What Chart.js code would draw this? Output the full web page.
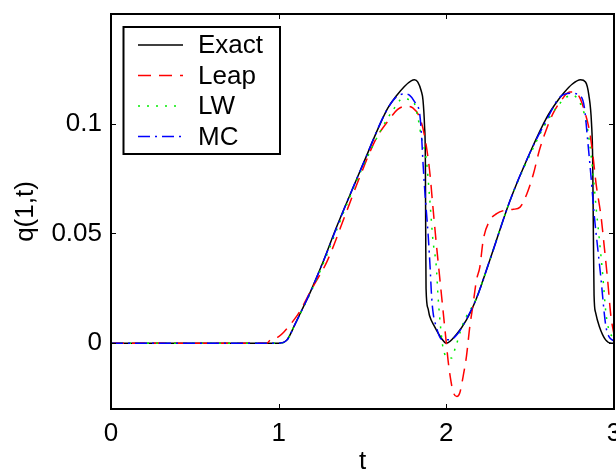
<!DOCTYPE html>
<html>
<head>
<meta charset="utf-8">
<script src="https://cdn.jsdelivr.net/npm/chart.js@4.4.1/dist/chart.umd.min.js"></script>
<style>
  html, body { margin: 0; padding: 0; background: #fff; }
  canvas { display: block; }
</style>
</head>
<body>
<canvas id="chart" width="616" height="475"></canvas>
<script>
// values
const tExact = [0, 1.0, 1.05, 1.10, 1.15, 1.19, 1.27, 1.33, 1.40, 1.50, 1.60, 1.65, 1.70, 1.75, 1.79, 1.81, 1.83, 1.85, 1.861, 1.87, 1.875, 1.877, 1.879, 1.89, 1.90, 1.93, 1.97, 2.0,
  2.06, 2.12, 2.18, 2.26, 2.38, 2.50, 2.60, 2.65, 2.70, 2.75, 2.80, 2.83, 2.85, 2.866, 2.873, 2.877, 2.881, 2.89, 2.913, 2.95, 2.985, 3.0];
const qExact = [0, 0, 0.0015, 0.009, 0.017, 0.0235, 0.038, 0.050, 0.063, 0.081, 0.099, 0.107, 0.1125, 0.117, 0.1195, 0.120, 0.119, 0.115, 0.1106, 0.099, 0.083, 0.05, 0.025, 0.016, 0.0125, 0.0075, 0.0023, 0,
  0.004, 0.0106, 0.0205, 0.038, 0.065, 0.087, 0.103, 0.109, 0.114, 0.118, 0.120, 0.119, 0.113, 0.1, 0.083, 0.05, 0.022, 0.014, 0.0075, 0.0015, 0, 0];

const tLeap = [0, 0.93, 0.95, 1.0, 1.03, 1.10, 1.13, 1.20, 1.29, 1.40, 1.48, 1.58, 1.66, 1.71, 1.76, 1.80, 1.84, 1.87, 1.90, 1.92, 1.94, 1.96, 1.98, 2.0,
  2.01, 2.02, 2.04, 2.063, 2.08, 2.10, 2.12, 2.14, 2.16, 2.18, 2.20, 2.22, 2.26, 2.30, 2.35, 2.40, 2.44, 2.48, 2.52, 2.555, 2.595, 2.635, 2.685, 2.735, 2.765, 2.795, 2.823, 2.853, 2.873, 2.893, 2.923, 2.942, 2.962, 2.982, 3.0];
const qLeap = [0, 0, 0.0015, 0.003, 0.005, 0.0115, 0.015, 0.025, 0.0375, 0.059, 0.075, 0.093, 0.102, 0.1065, 0.108, 0.1072, 0.103, 0.0945, 0.0788, 0.0621, 0.0455, 0.0303, 0.0151, 0,
  -0.0076, -0.0136, -0.022, -0.0243, -0.0227, -0.0152, -0.006, 0.0075, 0.018, 0.0288, 0.0348, 0.047, 0.056, 0.059, 0.0606, 0.061, 0.062, 0.068, 0.0773, 0.0879, 0.097, 0.1045, 0.1106, 0.1144, 0.1144, 0.112, 0.106, 0.097, 0.0864, 0.0727, 0.0576, 0.0439, 0.0288, 0.012, 0.004];

const tLW = [0, 1.0, 1.05, 1.10, 1.19, 1.27, 1.40, 1.50, 1.62, 1.68, 1.74, 1.78, 1.805, 1.83, 1.851, 1.881, 1.90, 1.92, 1.94, 1.95, 1.96, 1.97, 1.98, 2.01, 2.03, 2.055, 2.10,
  2.18, 2.26, 2.38, 2.50, 2.60, 2.714, 2.754, 2.794, 2.833, 2.853, 2.873, 2.893, 2.913, 2.932, 2.952, 2.97, 3.0];
const qLW = [0, 0, 0.0015, 0.009, 0.023, 0.037, 0.062, 0.080, 0.0985, 0.106, 0.1114, 0.111, 0.110, 0.103, 0.094, 0.0833, 0.0667, 0.047, 0.035, 0.022, 0.012, 0.004, -0.002, -0.0068, -0.0068, -0.0018, 0.009,
  0.0205, 0.038, 0.065, 0.086, 0.101, 0.112, 0.1129, 0.110, 0.1015, 0.092, 0.0788, 0.062, 0.047, 0.0318, 0.0136, 0.006, 0.002];

const tMC = [0, 1.0, 1.05, 1.10, 1.19, 1.27, 1.40, 1.50, 1.643, 1.70, 1.752, 1.78, 1.811, 1.841, 1.851, 1.861, 1.871, 1.881, 1.891, 1.905, 1.91, 1.92, 1.94, 1.97, 2.02, 2.07, 2.12,
  2.18, 2.26, 2.38, 2.50, 2.60, 2.675, 2.744, 2.794, 2.823, 2.843, 2.863, 2.883, 2.902, 2.923, 2.942, 2.952, 2.97, 3.0];
const qMC = [0, 0, 0.0015, 0.009, 0.0235, 0.038, 0.063, 0.081, 0.106, 0.1121, 0.1136, 0.113, 0.110, 0.1045, 0.096, 0.082, 0.070, 0.060, 0.05, 0.032, 0.024, 0.0145, 0.0075, 0.0018, 0.0015, 0.0045, 0.011,
  0.0205, 0.038, 0.065, 0.087, 0.102, 0.112, 0.1139, 0.1129, 0.1076, 0.0924, 0.0758, 0.0576, 0.0439, 0.0288, 0.0136, 0.0075, 0.003, 0.001];

const seriesNames = ['Exact', 'Leap', 'LW', 'MC'];
const xTicks = [0, 1, 2, 3];
const yTicks = [0, 0.05, 0.1];

const FONT = '"Liberation Sans", Arial, Helvetica, sans-serif';

function pairs(ts, qs) {
  return ts.map((t, i) => ({ x: t, y: qs[i] }));
}

const styles = [
  { color: '#000000', dash: [] },
  { color: '#ff0000', dash: [13, 8] },
  { color: '#00ee00', dash: [2, 7] },
  { color: '#0000ff', dash: [12, 5, 2, 5] }
];
const allData = [pairs(tExact, qExact), pairs(tLeap, qLeap), pairs(tLW, qLW), pairs(tMC, qMC)];

// box round the plot with inward ticks on all four sides
const boxTicks = {
  id: 'boxTicks',
  afterDatasetsDraw(chart) {
    const { ctx, chartArea: a, scales: { x, y } } = chart;
    ctx.save();
    ctx.strokeStyle = '#000';
    ctx.lineWidth = 1;
    ctx.beginPath();
    xTicks.forEach(v => {
      const px = Math.round(x.getPixelForValue(v)) + 0.5;
      ctx.moveTo(px, a.bottom); ctx.lineTo(px, a.bottom - 5);
      ctx.moveTo(px, a.top); ctx.lineTo(px, a.top + 5);
    });
    yTicks.forEach(v => {
      const py = Math.round(y.getPixelForValue(v)) + 0.5;
      ctx.moveTo(a.left, py); ctx.lineTo(a.left + 5, py);
      ctx.moveTo(a.right, py); ctx.lineTo(a.right - 5, py);
    });
    ctx.stroke();
    ctx.lineWidth = 2;
    ctx.strokeRect(a.left, a.top, a.right - a.left, a.bottom - a.top);
    ctx.restore();
  }
};

// MATLAB style legend box in the upper left corner
const boxLegend = {
  id: 'boxLegend',
  afterDraw(chart) {
    const { ctx } = chart;
    const left = 123.5, top = 27, w = 156.5, h = 127;
    ctx.save();
    ctx.fillStyle = '#fff';
    ctx.fillRect(left, top, w, h);
    ctx.strokeStyle = '#000';
    ctx.lineWidth = 2;
    ctx.strokeRect(left, top, w, h);
    chart.data.datasets.forEach((ds, i) => {
      const yy = 45 + i * 30.5;
      ctx.beginPath();
      ctx.setLineDash(ds.borderDash || []);
      ctx.strokeStyle = ds.borderColor;
      ctx.lineWidth = 1.5;
      ctx.moveTo(138, yy);
      ctx.lineTo(183, yy);
      ctx.stroke();
      ctx.setLineDash([]);
      ctx.fillStyle = '#000';
      ctx.font = '26px ' + FONT;
      ctx.textAlign = 'left';
      ctx.textBaseline = 'middle';
      ctx.fillText(ds.label, 198, yy + 1);
    });
    ctx.restore();
  }
};

const datasets = seriesNames.map((name, i) => ({
  label: name,
  data: allData[i],
  borderColor: styles[i].color,
  borderDash: styles[i].dash,
  borderWidth: 1.5,
  pointRadius: 0,
  fill: false,
  cubicInterpolationMode: 'monotone',
  order: 4 - i
}));

new Chart(document.getElementById('chart'), {
  type: 'line',
  data: { datasets },
  plugins: [boxTicks, boxLegend],
  options: {
    responsive: false,
    animation: false,
    devicePixelRatio: 1,
    layout: { padding: { top: 14, right: 2, left: 0, bottom: 0 }, autoPadding: false },
    plugins: { legend: { display: false }, tooltip: { enabled: false } },
    scales: {
      x: {
        type: 'linear',
        min: 0,
        max: 3,
        afterBuildTicks: s => { s.ticks = xTicks.map(v => ({ value: v })); },
        afterFit: s => { s.height = 66; s.paddingLeft = 0; s.paddingRight = 0; },
        grid: { display: false, drawTicks: false },
        border: { display: false },
        ticks: { color: '#000', font: { family: FONT, size: 26 }, padding: 9, maxRotation: 0, callback: v => String(v) },
        title: { display: true, text: 't', color: '#000', font: { family: FONT, size: 26, lineHeight: 1 }, padding: 0 }
      },
      y: {
        min: -0.03,
        max: 0.15,
        afterBuildTicks: s => { s.ticks = yTicks.map(v => ({ value: v })); },
        afterFit: s => { s.width = 111; s.paddingTop = 0; s.paddingBottom = 0; },
        grid: { display: false, drawTicks: false },
        border: { display: false },
        ticks: { color: '#000', font: { family: FONT, size: 26 }, padding: 9, callback: v => String(v) },
        title: { display: true, text: 'q(1,t)', color: '#000', font: { family: FONT, size: 26, lineHeight: 1 }, padding: { top: 13, bottom: 0 } }
      }
    }
  }
});
</script>
</body>
</html>
